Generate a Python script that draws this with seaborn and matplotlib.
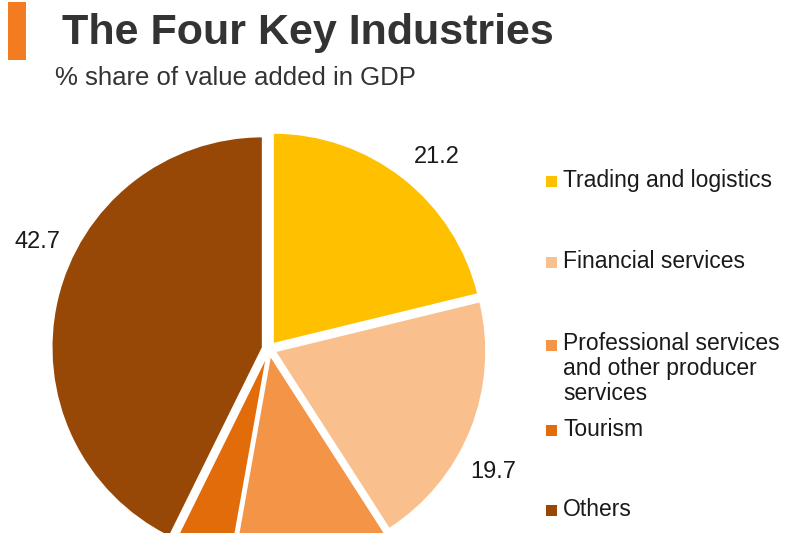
import numpy as np
import matplotlib
matplotlib.use("Agg")
import matplotlib.pyplot as plt
import seaborn as sns
from matplotlib.patches import Rectangle

categories = ["Trading and logistics", "Financial services",
              "Professional services\nand other producer\nservices", "Tourism", "Others"]
values = [21.2, 19.7, 11.9, 4.5, 42.7]
colors = ["#FFC000", "#F9C08E", "#F39446", "#E36C0A", "#984806"]

title = "The Four Key Industries"
subtitle = "% share of value added in GDP"

sns.set_theme(style="white")
plt.rcParams["font.family"] = ["Liberation Sans", "DejaVu Sans"]

W, H = 800, 533
fig = plt.figure(figsize=(8, 5.33), dpi=100)
ax = fig.add_axes([0, 0, 1, 1])
ax.set_xlim(0, W)
ax.set_ylim(0, H)
ax.set_aspect("equal")
ax.axis("off")

cx, cy, R = 269, H - 349, 211
explode = [6.5] * len(values)  # offset in data (pixel) units
wedges, _ = ax.pie(values, colors=colors, startangle=90, counterclock=False,
                   center=(cx, cy), radius=R, explode=explode,
                   wedgeprops=dict(edgecolor="white", linewidth=1.2))
ax.set_xlim(0, W)
ax.set_ylim(0, H)

# value labels outside the wedges (only those that fall inside the canvas)
label_shift = [-3, -7, 0, 0, -11.6]
for w, v, s in zip(wedges, values, label_shift):
    ang = np.deg2rad((w.theta1 + w.theta2) / 2 + s)
    r = R * 1.21
    x, y = cx + r * np.cos(ang), cy + r * np.sin(ang)
    if 15 < y < H - 15:
        ax.text(x, y, f"{v:.1f}", ha="center", va="center",
                fontsize=17, color="#1a1a1a")

# legend
leg_y = [181, 262, 345, 430, 510]
for c, lab, y in zip(colors, categories, leg_y):
    ax.add_patch(Rectangle((546, H - y - 5.5), 11, 11, facecolor=c, edgecolor="none"))
    if "\n" in lab:
        ax.text(563, H - y + 13, lab, ha="left", va="top",
                fontsize=16.5, color="#1a1a1a", linespacing=1.12)
    else:
        ax.text(563, H - y, lab, ha="left", va="center",
                fontsize=16.5, color="#1a1a1a")

# title block
fig.patches.append(Rectangle((8 / W, 1 - 60 / H), 18 / W, 58 / H, transform=fig.transFigure,
                             facecolor="#F47C20", edgecolor="none"))
fig.text(62 / W, 1 - 33 / H, title, fontsize=31, fontweight="bold", color="#333333",
         ha="left", va="center")
fig.text(55 / W, 1 - 78 / H, subtitle, fontsize=18.5, color="#333333",
         ha="left", va="center")

fig.savefig("out.png", dpi=100, facecolor="white")
